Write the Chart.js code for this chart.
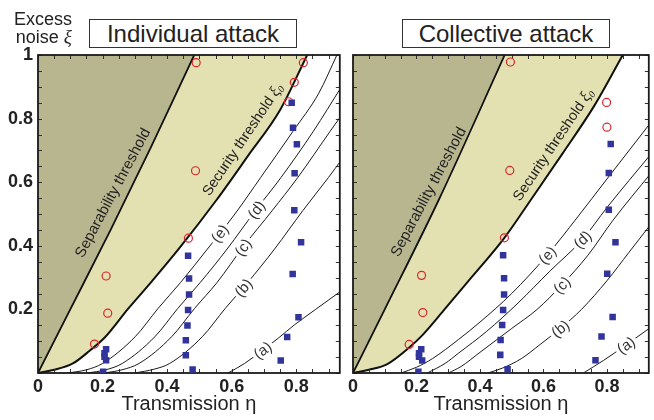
<!DOCTYPE html>
<html><head><meta charset="utf-8">
<script src="https://cdn.jsdelivr.net/npm/chart.js@4/dist/chart.umd.min.js"></script>
<style>
html,body{margin:0;padding:0;background:#fff;}
#wrap{position:relative;width:654px;height:420px;overflow:hidden;font-family:"Liberation Sans",Arial,sans-serif;color:#222;}
#cL{position:absolute;left:0;top:0;}
#cR{position:absolute;left:345px;top:0;}
.ttl{position:absolute;top:19px;height:27px;width:206px;border:1px solid #333;font-size:24px;line-height:27px;text-align:center;background:#fff;color:#222;white-space:nowrap;}
#yl{position:absolute;left:0;top:10px;width:72px;text-align:right;font-size:18px;line-height:18px;color:#222;}
#yl i{font-family:"Liberation Serif",serif;font-size:19px;}
</style></head>
<body><div id="wrap">
<canvas id="cL" width="345" height="420"></canvas>
<canvas id="cR" width="309" height="420"></canvas>
<div class="ttl" style="left:89px">Individual attack</div>
<div class="ttl" style="left:402px">Collective attack</div>
<div id="yl">Excess<br>noise <i>ξ</i></div>
</div>
<script>
// ---------- tick labels / names ----------
const X_TICKS = ['0','0.2','0.4','0.6','0.8'];
const Y_TICKS = ['0.2','0.4','0.6','0.8','1'];
const CURVE_LABELS = ['(a)','(b)','(c)','(d)','(e)'];
const PANEL_TITLES = ['Individual attack','Collective attack'];
const X_TITLE = 'Transmission η';

// ---------- Individual attack ----------
const ind_sep_eta = [0, 0.1, 0.225, 0.35, 0.484];
const ind_sep_xi  = [0, 0.2, 0.45, 0.71, 1.0];
const ind_sec_eta = [0, 0.05, 0.108, 0.16, 0.209, 0.28, 0.35, 0.436, 0.553, 0.65, 0.75, 0.834];
const ind_sec_xi  = [0, 0.01, 0.03, 0.07, 0.114, 0.203, 0.285, 0.39, 0.544, 0.682, 0.827, 1.0];
const ind_a_eta = [0.589, 0.64, 0.696, 0.745, 0.794, 0.86, 0.935];
const ind_a_xi  = [0, 0.03, 0.072, 0.11, 0.151, 0.2, 0.255];
const ind_b_eta = [0.30, 0.36, 0.408, 0.509, 0.58, 0.65, 0.733, 0.82, 0.9, 0.94];
const ind_b_xi  = [0, 0.012, 0.03, 0.114, 0.203, 0.285, 0.39, 0.51, 0.615, 0.67];
const ind_c_eta = [0.205, 0.26, 0.313, 0.414, 0.485, 0.555, 0.638, 0.725, 0.805, 0.905, 0.94];
const ind_c_xi  = [0, 0.01, 0.03, 0.114, 0.203, 0.285, 0.40, 0.51, 0.615, 0.76, 0.81];
const ind_d_eta = [0.153, 0.21, 0.261, 0.362, 0.433, 0.503, 0.586, 0.673, 0.753, 0.853, 0.94];
const ind_d_xi  = [0, 0.01, 0.03, 0.114, 0.203, 0.285, 0.39, 0.51, 0.615, 0.76, 0.9];
const ind_e_eta = [0.092, 0.15, 0.2, 0.301, 0.372, 0.442, 0.525, 0.61, 0.69, 0.79, 0.87, 0.926];
const ind_e_xi  = [0, 0.01, 0.03, 0.114, 0.203, 0.285, 0.39, 0.5, 0.615, 0.76, 0.88, 1.0];
const ind_circ_eta = [0.490, 0.822, 0.794, 0.776, 0.488, 0.466, 0.211, 0.216, 0.175];
const ind_circ_xi  = [0.976, 0.976, 0.914, 0.853, 0.636, 0.424, 0.305, 0.188, 0.091];
const ind_sq_eta = [0.202, 0.211, 0.206, 0.206, 0.211, 0.465, 0.468, 0.468, 0.465, 0.463, 0.458, 0.458, 0.479,
                    0.786, 0.790, 0.802, 0.795, 0.794, 0.815, 0.789, 0.807, 0.772, 0.752];
const ind_sq_xi  = [0.004, 0.040, 0.051, 0.062, 0.075, 0.369, 0.297, 0.247, 0.198, 0.149, 0.103, 0.056, 0.011,
                    0.850, 0.771, 0.719, 0.628, 0.512, 0.411, 0.311, 0.175, 0.113, 0.039];

// ---------- Collective attack ----------
const col_sep_eta = [0, 0.1, 0.27, 0.478];
const col_sep_xi  = [0, 0.2, 0.544, 1.0];
const col_sec_eta = [0, 0.05, 0.108, 0.177, 0.215, 0.291, 0.36, 0.477, 0.56, 0.66, 0.76, 0.85];
const col_sec_xi  = [0, 0.01, 0.028, 0.08, 0.115, 0.203, 0.285, 0.425, 0.544, 0.69, 0.84, 1.0];
const col_a_eta = [0.726, 0.79, 0.86, 0.94];
const col_a_xi  = [0, 0.04, 0.088, 0.145];
const col_b_eta = [0.425, 0.47, 0.53, 0.59, 0.653, 0.72, 0.8, 0.87, 0.94];
const col_b_xi  = [0, 0.015, 0.045, 0.09, 0.14, 0.2, 0.29, 0.38, 0.47];
const col_c_eta = [0.30, 0.34, 0.4, 0.5, 0.58, 0.658, 0.74, 0.819, 0.94];
const col_c_xi  = [0, 0.02, 0.065, 0.14, 0.2, 0.277, 0.37, 0.48, 0.63];
const col_d_eta = [0.234, 0.29, 0.332, 0.42, 0.52, 0.62, 0.723, 0.8, 0.94];
const col_d_xi  = [0, 0.03, 0.062, 0.13, 0.22, 0.32, 0.42, 0.52, 0.69];
const col_e_eta = [0.151, 0.2, 0.25, 0.332, 0.4, 0.5, 0.612, 0.705, 0.8, 0.94];
const col_e_xi  = [0, 0.018, 0.045, 0.105, 0.16, 0.25, 0.371, 0.487, 0.61, 0.79];
const col_circ_eta = [0.496, 0.799, 0.800, 0.494, 0.477, 0.216, 0.220, 0.177];
const col_circ_xi  = [0.978, 0.851, 0.773, 0.637, 0.425, 0.307, 0.190, 0.090];
const col_sq_eta = [0.206, 0.218, 0.208, 0.208, 0.215, 0.473, 0.476, 0.476, 0.473, 0.470, 0.465, 0.464, 0.487,
                    0.812, 0.806, 0.806, 0.827, 0.801, 0.818, 0.783, 0.764];
const col_sq_xi  = [0.004, 0.039, 0.051, 0.062, 0.075, 0.370, 0.298, 0.247, 0.198, 0.151, 0.104, 0.057, 0.012,
                    0.720, 0.629, 0.513, 0.411, 0.312, 0.176, 0.115, 0.040];

// ---------- styling / helpers ----------
const FONT = "'Liberation Sans', Arial, sans-serif";
const TICKFONT = "'Liberation Sans Narrow', 'Liberation Sans', Arial, sans-serif";
const DARK = '#b8b68f', LIGHT = '#e3e1b1', RED = '#d8262b', BLUE = '#31359b', INK = '#222';

const pts = (xs, ys) => xs.map((v, i) => ({x: v, y: ys[i]}));
const fmt = v => String(Math.round(v * 100) / 100);
const tickCb = list => v => { const s = fmt(v); return (Math.abs(v * 5 - Math.round(v * 5)) < 1e-6 && list.includes(s)) ? s : ''; };

function curveDS(xs, ys, label, labelEta) {
  return {data: pts(xs, ys), showLine: true, borderColor: '#1a1a1a', borderWidth: 1, pointRadius: 0,
          cubicInterpolationMode: 'monotone', fill: false, order: 5, curveLabel: label, labelEta: labelEta};
}

function drawRotText(ctx, cx, cy, ang, parts) {
  ctx.save(); ctx.translate(cx, cy); ctx.rotate(ang);
  let tot = 0;
  parts.forEach(p => { ctx.font = p.f; p.w = ctx.measureText(p.t).width; tot += p.w; });
  let x = -tot / 2;
  ctx.fillStyle = INK; ctx.textBaseline = 'middle'; ctx.textAlign = 'left';
  parts.forEach(p => { ctx.font = p.f; ctx.fillText(p.t, x, p.dy || 0); x += p.w; });
  ctx.restore();
}

function drawCurveLabel(chart, ds) {
  const {ctx, scales: {x, y}} = chart;
  const d = ds.data, e = ds.labelEta;
  let i = 1; while (i < d.length - 1 && d[i].x < e) i++;
  const p0 = d[i - 1], p1 = d[i];
  const t = (e - p0.x) / (p1.x - p0.x);
  const xi = p0.y + t * (p1.y - p0.y);
  const px = x.getPixelForValue(e), py = y.getPixelForValue(xi);
  const ang = Math.atan2(y.getPixelForValue(p1.y) - y.getPixelForValue(p0.y), x.getPixelForValue(p1.x) - x.getPixelForValue(p0.x));
  ctx.save(); ctx.translate(px, py); ctx.rotate(ang);
  ctx.font = '15px ' + FONT;
  const w = ctx.measureText(ds.curveLabel).width;
  ctx.fillStyle = '#fff'; ctx.fillRect(-w / 2 - 2.5, -3.5, w + 5, 7);
  ctx.fillStyle = '#333'; ctx.textAlign = 'center'; ctx.textBaseline = 'middle';
  ctx.fillText(ds.curveLabel, 0, 1);
  ctx.restore();
}

function drawFrame(chart) {
  const {ctx, chartArea: a, scales: {x, y}} = chart;
  ctx.save();
  ctx.strokeStyle = '#333'; ctx.lineWidth = 1;
  ctx.beginPath();
  for (let i = 0; i * 0.05 <= x.max + 1e-9; i++) {
    const px = Math.round(x.getPixelForValue(i * 0.05)) + 0.5;
    ctx.moveTo(px, a.bottom); ctx.lineTo(px, a.bottom - 4);
    ctx.moveTo(px, a.top); ctx.lineTo(px, a.top + 4);
  }
  for (let i = 0; i * 0.05 <= y.max + 1e-9; i++) {
    const py = Math.round(y.getPixelForValue(i * 0.05)) + 0.5;
    ctx.moveTo(a.left, py); ctx.lineTo(a.left + 4, py);
    ctx.moveTo(a.right, py); ctx.lineTo(a.right - 4, py);
  }
  ctx.stroke();
  ctx.strokeStyle = '#1a1a1a'; ctx.lineWidth = 1.8;
  ctx.strokeRect(a.left, a.top, a.right - a.left, a.bottom - a.top);
  ctx.restore();
}

const panelPlugin = {
  id: 'panelPlugin',
  afterDatasetDraw(chart, args) {
    const ds = chart.data.datasets[args.index];
    if (ds.curveLabel) drawCurveLabel(chart, ds);
    if (ds.isSep) {
      drawFrame(chart);
      const {ctx, scales: {x, y}} = chart;
      const o = chart.options.plugins.panelPlugin;
      drawRotText(ctx, x.getPixelForValue(o.sepAt[0]), y.getPixelForValue(o.sepAt[1]), -62 * Math.PI / 180,
        [{t: 'Separability threshold', f: '15px ' + FONT}]);
      drawRotText(ctx, x.getPixelForValue(o.secAt[0]), y.getPixelForValue(o.secAt[1]), -56 * Math.PI / 180,
        [{t: 'Security threshold ', f: '14.5px ' + FONT},
         {t: 'ξ', f: 'italic 16px "Liberation Serif", serif'},
         {t: '0', f: 'italic 10px "Liberation Serif", serif', dy: 4}]);
    }
  }
};

function makePanel(canvasId, d, opt) {
  const datasets = [
    {data: pts(d.secEta, d.secXi), showLine: true, borderColor: '#111', borderWidth: 2, pointRadius: 0,
     cubicInterpolationMode: 'monotone', fill: 'end', backgroundColor: LIGHT, order: 9},
    {data: pts(d.sepEta, d.sepXi), showLine: true, borderColor: '#111', borderWidth: 1.8, pointRadius: 0,
     cubicInterpolationMode: 'monotone', fill: 'end', backgroundColor: DARK, order: 8, isSep: true},
  ];
  d.curves.forEach((c, i) => datasets.push(curveDS(c[0], c[1], CURVE_LABELS[i], opt.labelEta[i])));
  datasets.push({data: pts(d.circEta, d.circXi), pointStyle: 'circle', pointRadius: 4, pointBorderWidth: 1.2,
     borderColor: RED, backgroundColor: 'rgba(0,0,0,0)', pointBorderColor: RED, pointBackgroundColor: 'rgba(0,0,0,0)', order: 1});
  datasets.push({data: pts(d.sqEta, d.sqXi), pointStyle: 'rect', pointRadius: 4.6, pointBorderWidth: 0,
     borderColor: BLUE, backgroundColor: BLUE, pointBackgroundColor: BLUE, order: 0});

  const yScale = {type: 'linear', min: 0, max: 1, display: opt.showY,
      ticks: {stepSize: 0.05, autoSkip: false, padding: 5,
              font: {size: 18, weight: 'bold', family: TICKFONT}, color: INK, callback: tickCb(Y_TICKS)},
      grid: {display: false, drawTicks: false}, border: {display: false}};
  if (opt.showY) yScale.afterFit = s => { s.width = 38; };

  return new Chart(document.getElementById(canvasId), {
    type: 'scatter',
    data: {datasets},
    plugins: [panelPlugin],
    options: {
      responsive: false, animation: false, events: [],
      layout: {padding: opt.padding},
      plugins: {legend: {display: false}, tooltip: {enabled: false}, title: {display: false},
                panelPlugin: {sepAt: opt.sepAt, secAt: opt.secAt}},
      scales: {
        x: {type: 'linear', min: 0, max: opt.xMax,
            ticks: {stepSize: 0.05, includeBounds: false, autoSkip: false, maxRotation: 0, padding: 3,
                    font: {size: 18, weight: 'bold', family: TICKFONT}, color: INK, callback: tickCb(X_TICKS)},
            grid: {display: false, drawTicks: false}, border: {display: false},
            title: {display: true, text: X_TITLE, font: {size: 20, family: FONT}, color: INK, padding: {top: 0, bottom: 4}},
            afterFit(s) { s.height = 47; }},
        y: yScale
      }
    }
  });
}

makePanel('cL', {
  sepEta: ind_sep_eta, sepXi: ind_sep_xi, secEta: ind_sec_eta, secXi: ind_sec_xi,
  curves: [[ind_a_eta, ind_a_xi], [ind_b_eta, ind_b_xi], [ind_c_eta, ind_c_xi], [ind_d_eta, ind_d_xi], [ind_e_eta, ind_e_xi]],
  circEta: ind_circ_eta, circXi: ind_circ_xi, sqEta: ind_sq_eta, sqXi: ind_sq_xi
}, {padding: {left: 0, right: 2, top: 55, bottom: 0}, xMax: 0.935, showY: true,
    labelEta: [0.696, 0.636, 0.635, 0.676, 0.563], sepAt: [0.233, 0.566], secAt: [0.635, 0.733]});

makePanel('cR', {
  sepEta: col_sep_eta, sepXi: col_sep_xi, secEta: col_sec_eta, secXi: col_sec_xi,
  curves: [[col_a_eta, col_a_xi], [col_b_eta, col_b_xi], [col_c_eta, col_c_xi], [col_d_eta, col_d_xi], [col_e_eta, col_e_xi]],
  circEta: col_circ_eta, circXi: col_circ_xi, sqEta: col_sq_eta, sqXi: col_sq_xi
}, {padding: {left: 8, right: 1, top: 55, bottom: 0}, xMax: 0.932, showY: false,
    labelEta: [0.86, 0.653, 0.658, 0.723, 0.612], sepAt: [0.239, 0.569], secAt: [0.632, 0.717]});
</script>
</body></html>
